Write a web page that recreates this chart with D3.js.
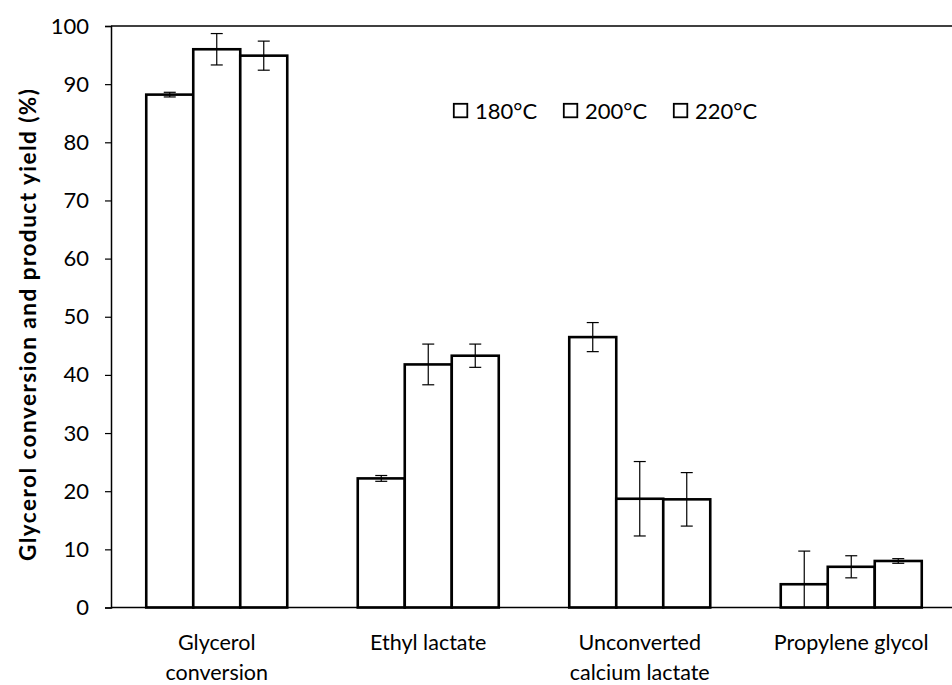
<!DOCTYPE html>
<html>
<head>
<meta charset="utf-8">
<script src="https://cdn.jsdelivr.net/npm/d3@7"></script>
<style>
  body { margin: 0; background: #fff; }
  text { font-family: Lato, "Open Sans", sans-serif; fill: #000; }
</style>
</head>
<body>
<svg id="chart" width="952" height="685"></svg>
<script>
// categories and series
var categories = [["Glycerol", "conversion"], ["Ethyl lactate"], ["Unconverted", "calcium lactate"], ["Propylene glycol"]];
var series = ["180°C", "200°C", "220°C"];
var values180 = [88.2, 22.2, 46.5, 4.0];
var values200 = [96.0, 41.8, 18.7, 7.0];
var values220 = [94.9, 43.3, 18.6, 8.0];
var err180 = [0.4, 0.5, 2.5, 5.7];
var err200 = [2.7, 3.5, 6.4, 1.9];
var err220 = [2.5, 2.0, 4.6, 0.4];
var yTicks = [0, 10, 20, 30, 40, 50, 60, 70, 80, 90, 100];

var allValues = [values180, values200, values220];
var allErr = [err180, err200, err220];

var plotLeft = 111, plotRight = 957, plotTop = 26, plotBottom = 607.5;

var svg = d3.select("#chart");

var x0 = d3.scaleBand()
    .domain(d3.range(categories.length))
    .range([plotLeft, plotRight])
    .paddingInner(1/3)
    .paddingOuter(1/6);

var x1 = d3.scaleBand()
    .domain(d3.range(series.length))
    .range([0, x0.bandwidth()]);

var y = d3.scaleLinear()
    .domain([0, 100])
    .range([plotBottom, plotTop]);

// top frame line
svg.append("line")
   .attr("x1", plotLeft).attr("x2", 952)
   .attr("y1", y(100)).attr("y2", y(100))
   .attr("stroke", "#000").attr("stroke-width", 1.5);

// y axis
var yAxis = d3.axisLeft(y).tickValues(yTicks).tickSize(6).tickPadding(16);
var gy = svg.append("g").attr("transform", "translate(" + plotLeft + ",0)").call(yAxis);
gy.select(".domain").attr("stroke-width", 1.5);
gy.selectAll(".tick line").attr("stroke-width", 1.2);
gy.selectAll(".tick text").style("font-size", "22px").style("font-family", "Lato, 'Open Sans', sans-serif");

// bars
var data = [];
categories.forEach(function(c, i) {
  series.forEach(function(s, j) {
    data.push({ cat: i, ser: j, v: allValues[j][i], e: allErr[j][i] });
  });
});

svg.append("g").selectAll("rect")
   .data(data).enter().append("rect")
   .attr("x", function(d) { return x0(d.cat) + x1(d.ser); })
   .attr("y", function(d) { return y(d.v); })
   .attr("width", x1.bandwidth())
   .attr("height", function(d) { return y(0) - y(d.v); })
   .attr("fill", "#fff")
   .attr("stroke", "#000")
   .attr("stroke-width", 2.6);

// error bars
var eg = svg.append("g").attr("stroke", "#000").attr("stroke-width", 1.2);
data.forEach(function(d) {
  var cx = x0(d.cat) + x1(d.ser) + x1.bandwidth() / 2;
  var hi = d.v + d.e, lo = Math.max(0, d.v - d.e);
  eg.append("line").attr("x1", cx).attr("x2", cx).attr("y1", y(hi)).attr("y2", y(lo));
  eg.append("line").attr("x1", cx - 6).attr("x2", cx + 6).attr("y1", y(hi)).attr("y2", y(hi));
  if (d.v - d.e > 0) {
    eg.append("line").attr("x1", cx - 6).attr("x2", cx + 6).attr("y1", y(lo)).attr("y2", y(lo));
  }
});

// baseline
svg.append("line")
   .attr("x1", plotLeft).attr("x2", 952)
   .attr("y1", y(0)).attr("y2", y(0))
   .attr("stroke", "#000").attr("stroke-width", 1.5);

// x labels
categories.forEach(function(lines, i) {
  var cx = x0(i) + x0.bandwidth() / 2;
  var t = svg.append("text")
     .attr("x", cx)
     .attr("y", 650)
     .attr("text-anchor", "middle")
     .style("font-size", "21.5px");
  lines.forEach(function(l, k) {
    t.append("tspan").attr("x", cx).attr("dy", k === 0 ? 0 : 30).text(l);
  });
});

// y title
svg.append("text")
   .attr("transform", "translate(36,325) rotate(-90)")
   .attr("text-anchor", "middle")
   .style("font-size", "22.5px")
   .style("font-weight", "bold")
   .attr("textLength", 472)
   .attr("lengthAdjust", "spacing")
   .text("Glycerol conversion and product yield (%)");

// legend
var lg = svg.append("g").attr("transform", "translate(453,103)");
series.forEach(function(s, i) {
  var g = lg.append("g").attr("transform", "translate(" + (i * 110) + ",0)");
  g.append("rect").attr("x", 0.8).attr("y", 0.8).attr("width", 13.5).attr("height", 13.5)
   .attr("fill", "#fff").attr("stroke", "#000").attr("stroke-width", 1.8);
  g.append("text").attr("x", 22).attr("y", 15.5).style("font-size", "22px").text(s);
});
</script>
</body>
</html>
